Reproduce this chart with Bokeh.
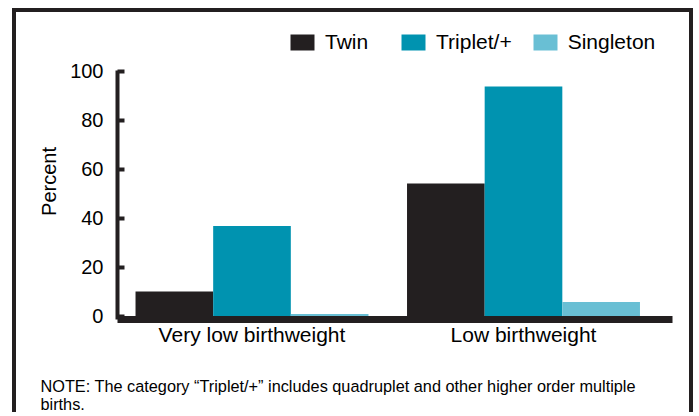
import math
import numpy as np
from bokeh.plotting import figure
from bokeh.models import (ColumnDataSource, Range1d, FixedTicker, Legend, LegendItem, Label)
from bokeh.transform import dodge
from bokeh.embed import file_html
from bokeh.resources import INLINE

# ---- data ----
categories = ["Very low birthweight", "Low birthweight"]
series = ["Twin", "Triplet/+", "Singleton"]
twin = [10.2, 54.3]
triplet = [36.9, 93.9]
singleton = [1.0, 5.9]
y_ticks = [0, 20, 40, 60, 80, 100]
note_lines = ["NOTE: The category \u201cTriplet/+\u201d includes quadruplet and other higher order multiple",
              "births."]

colors = ["#231f20", "#0093b0", "#69bfd4"]
FONT = "Liberation Sans"
INK = "#231f20"

idx = list(range(len(categories)))
src = ColumnDataSource(dict(x=idx, twin=twin, triplet=triplet, singleton=singleton))

p = figure(width=681, height=404, output_backend="svg", toolbar_location=None,
           x_range=Range1d(-0.8674, 1.6409), y_range=Range1d(-40.82, 124.08),
           min_border_left=0, min_border_right=0, min_border_top=0, min_border_bottom=0)
p.styles = {"border-top": "4px solid #231f20", "border-left": "4px solid #231f20",
            "border-right": "4px solid #231f20", "margin-left": "12px", "margin-top": "8px"}

bw = 0.286
r1 = p.vbar(x=dodge("x", -bw, range=p.x_range), top="twin", width=bw, source=src,
            fill_color=colors[0], line_color=None)
r2 = p.vbar(x=dodge("x", 0, range=p.x_range), top="triplet", width=bw, source=src,
            fill_color=colors[1], line_color=None)
r3 = p.vbar(x=dodge("x", bw, range=p.x_range), top="singleton", width=bw, source=src,
            fill_color=colors[2], line_color=None)

p.grid.visible = False
p.outline_line_color = None
p.background_fill_color = "white"
p.border_fill_color = "white"

x_lo, x_hi = -0.4954, 1.5488   # axis extent (data units)
y_lo, y_hi = -1.43, 100.4

# x axis
xa = p.xaxis[0]
xa.fixed_location = y_lo
xa.bounds = (x_lo, x_hi)
xa.ticker = FixedTicker(ticks=idx)
xa.major_label_overrides = {i: c for i, c in zip(idx, categories)}
xa.axis_line_width = 7
xa.axis_line_color = INK
xa.major_tick_line_color = None
xa.minor_tick_line_color = None
xa.major_label_text_font = FONT
xa.major_label_text_font_size = "21px"
xa.major_label_text_color = "black"
xa.major_label_standoff = -3

# y axis
ya = p.yaxis[0]
ya.fixed_location = x_lo
ya.bounds = (y_lo, y_hi)
ya.ticker = FixedTicker(ticks=y_ticks)
ya.axis_line_width = 4
ya.axis_line_color = INK
ya.major_tick_in = 7
ya.major_tick_out = 0
ya.major_tick_line_width = 4
ya.major_tick_line_color = INK
ya.minor_tick_line_color = None
ya.major_label_text_font = FONT
ya.major_label_text_font_size = "20px"
ya.major_label_text_color = "black"
ya.major_label_standoff = 14

p.add_layout(Label(x=32, y=235, x_units="screen", y_units="screen", text="Percent",
                   angle=math.pi / 2, text_align="center", text_baseline="alphabetic",
                   text_font=FONT, text_font_size="20px", text_color="black"))

legend = Legend(items=[LegendItem(label=s, renderers=[r]) for s, r in zip(series, [r1, r2, r3])],
                orientation="horizontal", location=(271, 362),
                glyph_width=30, glyph_height=20, label_standoff=8, label_width=55, spacing=18,
                padding=0, margin=0, border_line_color=None, background_fill_alpha=0,
                label_text_font=FONT, label_text_font_size="21px", label_text_color="black")
p.add_layout(legend, "center")

for line, yy in zip(note_lines, [31, 13]):
    p.add_layout(Label(x=24, y=yy, x_units="screen", y_units="screen", text=line,
                       text_font=FONT, text_font_size="16.3px", text_color="black",
                       text_baseline="alphabetic"))

open("out.html", "w").write(file_html(p, INLINE))
